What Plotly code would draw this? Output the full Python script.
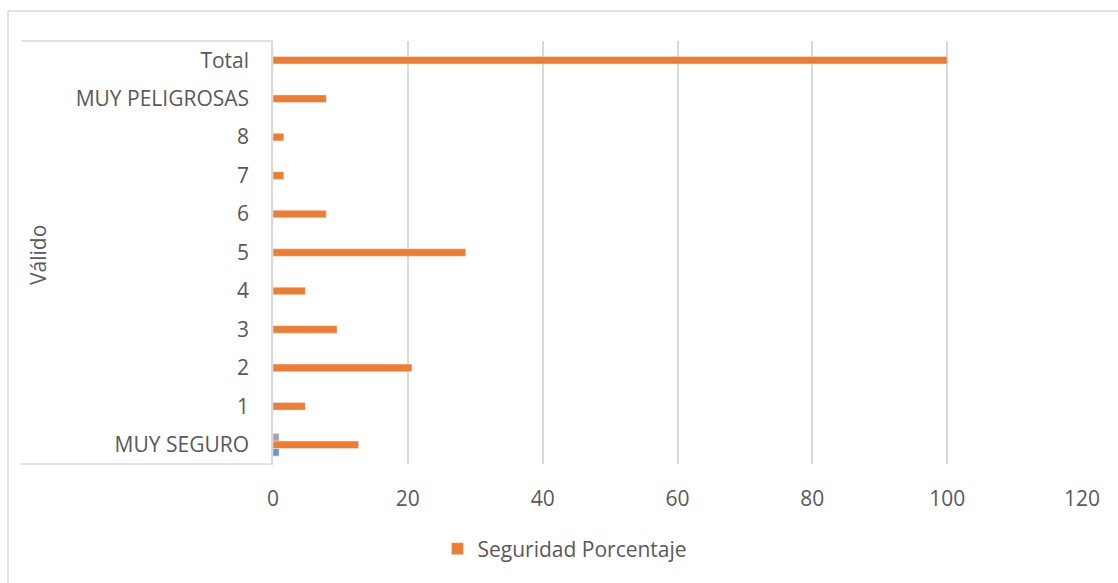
import plotly.graph_objects as go

# Categories from bottom to top
categories = ["MUY SEGURO", "1", "2", "3", "4", "5", "6", "7", "8", "MUY PELIGROSAS", "Total"]
porcentaje = [12.7, 4.8, 20.6, 9.5, 4.8, 28.6, 7.9, 1.6, 1.6, 7.9, 100.0]
serie_azul = [0.9, 0, 0, 0, 0, 0, 0, 0, 0, 0, 0]
serie_gris = [0.9, 0, 0, 0, 0, 0, 0, 0, 0, 0, 0]
x_ticks = [0, 20, 40, 60, 80, 100, 120]

FONT = "Open Sans"
TXT = "#595959"
GRID = "#d9d9d9"
FS = 21

fig = go.Figure()
fig.add_trace(go.Bar(y=categories, x=serie_azul, orientation="h",
                     marker_color="#5B9BD5", showlegend=False, name="Seguridad"))
fig.add_trace(go.Bar(y=categories, x=porcentaje, orientation="h",
                     marker_color="#ED7D31", name="Seguridad Porcentaje"))
fig.add_trace(go.Bar(y=categories, x=serie_gris, orientation="h",
                     marker_color="#A5A5A5", showlegend=False, name="Válido"))

W, H = 1118, 583
L, R, T, B = 273, 36, 41, 119
pw, ph = W - L - R, H - T - B

def px(x):
    return (x - L) / pw

def py(y):
    return (H - B - y) / ph

shapes = [
    # outer chart border
    dict(type="rect", xref="paper", yref="paper", x0=px(8), x1=px(1130),
         y0=py(11), y1=py(600), line=dict(color=GRID, width=1.5)),
    # category label box
    dict(type="line", xref="paper", yref="paper", x0=px(21), x1=0, y0=1, y1=1,
         line=dict(color=GRID, width=1.5)),
    dict(type="line", xref="paper", yref="paper", x0=px(21), x1=0, y0=0, y1=0,
         line=dict(color=GRID, width=1.5)),
]

fig.update_layout(
    width=W, height=H,
    margin=dict(l=L, r=R, t=T, b=B),
    paper_bgcolor="white", plot_bgcolor="white",
    barmode="group", bargap=0.41, bargroupgap=0,
    font=dict(family=FONT, color=TXT, size=FS),
    shapes=shapes,
    legend=dict(orientation="h", x=px(565), y=py(549), xanchor="center", yanchor="middle",
                font=dict(family=FONT, size=FS, color=TXT), itemwidth=30),
    annotations=[dict(text="Válido", xref="paper", yref="paper", x=px(38), y=py(255),
                      xanchor="center", yanchor="middle", textangle=-90, showarrow=False,
                      font=dict(family=FONT, size=FS, color=TXT))],
)
fig.update_xaxes(range=[0, 120], tickvals=x_ticks, showgrid=True, gridcolor=GRID, gridwidth=1.5,
                 zeroline=False, showline=False, ticks="", ticklabelstandoff=20,
                 tickfont=dict(family=FONT, size=FS, color=TXT))
fig.update_yaxes(categoryorder="array", categoryarray=categories, showgrid=False,
                 showline=True, linecolor=GRID, linewidth=1.5, ticks="", ticklabelstandoff=18,
                 tickfont=dict(family=FONT, size=FS, color=TXT))

fig.write_html("out.html")
